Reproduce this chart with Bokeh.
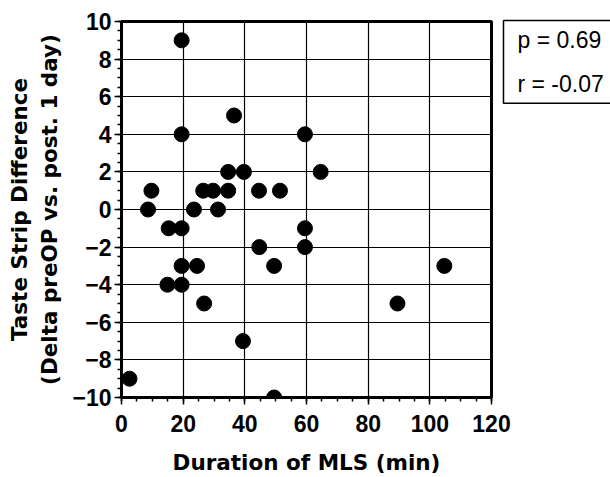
from bokeh.plotting import figure
from bokeh.models import SingleIntervalTicker, Label
from bokeh.embed import file_html
from bokeh.resources import INLINE

# data
duration = [19.5, 9.7, 8.6, 19.5, 36.5, 34.6, 39.7, 26.5, 29.7, 34.6, 44.6, 51.4,
            23.5, 31.3, 15.3, 19.5, 44.7, 19.5, 24.5, 49.5, 14.9, 19.5, 26.8, 39.4,
            2.6, 49.5, 59.5, 64.6, 59.5, 59.5, 104.7, 89.5]
diff = [9, 1, 0, 4, 5, 2, 2, 1, 1, 1, 1, 1,
        0, 0, -1, -1, -2, -3, -3, -3, -4, -4, -5, -7,
        -9, -10, 4, 2, -1, -2, -3, -5]
stats_text = ["p = 0.69", "r = -0.07"]
x_label = "Duration of MLS (min)"
y_label = "Taste Strip Difference\n(Delta preOP vs. post. 1 day)"

TICK_FONT = "Liberation Sans"
LABEL_FONT = "DejaVu Sans"

p = figure(width=610, height=477, output_backend="svg", toolbar_location=None,
           x_range=(0, 120), y_range=(-10, 10),
           min_border_left=121, min_border_top=21, min_border_right=119, min_border_bottom=77)
p.background_fill_color = "white"
p.border_fill_color = "white"
p.outline_line_color = "black"
p.outline_line_width = 3

p.xaxis.ticker = SingleIntervalTicker(interval=20, num_minor_ticks=4)
p.yaxis.ticker = SingleIntervalTicker(interval=2, num_minor_ticks=4)

for ax in (p.xaxis[0], p.yaxis[0]):
    ax.axis_line_width = 3
    ax.axis_line_color = "black"
    ax.major_tick_line_color = "black"
    ax.major_tick_line_width = 1.5
    ax.minor_tick_line_color = "black"
    ax.minor_tick_line_width = 1.5
    ax.major_tick_in = 0
    ax.minor_tick_in = 0
    ax.major_tick_out = 7
    ax.minor_tick_out = 4
    ax.major_label_text_font = TICK_FONT
    ax.major_label_text_font_style = "bold"
    ax.major_label_text_font_size = "23px"
    ax.major_label_text_color = "black"
    ax.axis_label_text_font = LABEL_FONT
    ax.axis_label_text_font_style = "bold"
    ax.axis_label_text_font_size = "21.5px"
    ax.axis_label_text_color = "black"

p.xaxis.axis_label = x_label
p.yaxis.axis_label = y_label
p.xaxis.major_label_standoff = 10
p.yaxis.major_label_standoff = 3
p.xaxis.axis_label_standoff = 15
p.yaxis.axis_label_standoff = 7
p.yaxis.axis_label_text_line_height = 1.2

for g in (p.xgrid[0], p.ygrid[0]):
    g.grid_line_color = "black"
    g.grid_line_width = 1.2
    g.grid_line_alpha = 1

p.scatter(duration, diff, size=15, fill_color="black", line_color="black")

stats = Label(x=503, y=20, x_units="canvas", y_units="canvas", text="\n".join(stats_text),
              text_align="left", text_baseline="top",
              text_font=TICK_FONT, text_font_size="23px", text_color="black",
              text_line_height=1.72, padding=(14, 6),
              border_line_color="black", border_line_width=1.5,
              background_fill_color="white", background_fill_alpha=1)
p.add_layout(stats, "right")

open("out.html", "w").write(file_html(p, INLINE))
